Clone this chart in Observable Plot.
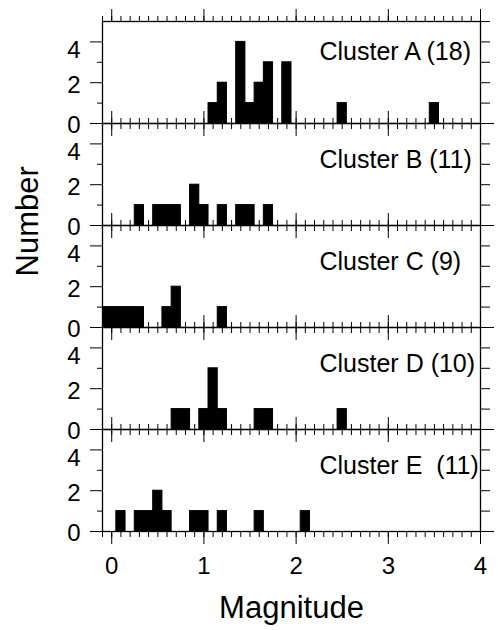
<!DOCTYPE html>
<html><head><meta charset="utf-8">
<script src="https://cdn.jsdelivr.net/npm/d3@7"></script>
<script src="https://cdn.jsdelivr.net/npm/@observablehq/plot@0.6"></script>
<style>body{margin:0;background:#fff;}</style>
</head><body><div id="chart"></div>
<script>
// ---- data ----
const clusters = ["A", "B", "C", "D", "E"];
const clusterLabels = ["Cluster A (18)", "Cluster B (11)", "Cluster C (9)", "Cluster D (10)", "Cluster E\u00a0\u00a0(11)"];
// bin centres (magnitude) and counts per cluster
const magA = [1.1, 1.2, 1.4, 1.5, 1.6, 1.7, 1.9, 2.5, 3.5];
const cntA = [1, 2, 4, 1, 2, 3, 3, 1, 1];
const magB = [0.3, 0.5, 0.6, 0.7, 0.9, 1.0, 1.2, 1.4, 1.5, 1.7];
const cntB = [1, 1, 1, 1, 2, 1, 1, 1, 1, 1];
const magC = [-0.1, 0.0, 0.1, 0.2, 0.3, 0.6, 0.7, 1.2];
const cntC = [1, 1, 1, 1, 1, 1, 2, 1];
const magD = [0.7, 0.8, 1.0, 1.1, 1.2, 1.6, 1.7, 2.5];
const cntD = [1, 1, 1, 3, 1, 1, 1, 1];
const magE = [0.1, 0.3, 0.4, 0.5, 0.6, 0.9, 1.0, 1.2, 1.6, 2.1];
const cntE = [1, 1, 1, 2, 1, 1, 1, 1, 1, 1];
const binWidth = 0.1;
const xMajorTicks = [0, 1, 2, 3, 4];
const xMinorTicks = d3.range(-1, 41).map(i => i / 10);
const yLabelTicks = [0, 2, 4];
const yMinorTicks = [1, 3];
const yRightTicks = [1, 2, 3, 4, 5];

// ---- build table ----
const series = {A: [magA, cntA], B: [magB, cntB], C: [magC, cntC], D: [magD, cntD], E: [magE, cntE]};
const bars = clusters.flatMap(c => series[c][0].map((m, i) => ({cluster: c, mag: m, count: series[c][1][i]})));
const labels = clusters.map((c, i) => ({cluster: c, label: clusterLabels[i]}));

const font = "'Liberation Sans', Arial, Helvetica, sans-serif";
const tickOpts = {fill: "none", label: null, facetAnchor: null, strokeWidth: 1};
const yTextOpts = {anchor: "left", tickSize: 0, tickPadding: 22, fontSize: 24, label: null, facetAnchor: null};

const plot = Plot.plot({
  width: 498,
  height: 630,
  marginTop: 19,
  marginBottom: 97.7,
  marginLeft: 102,
  marginRight: 18,
  x: {domain: [-0.1, 4], axis: null},
  y: {domain: [0, 5], axis: null},
  fy: {domain: clusters, axis: null, padding: 0},
  style: {fontFamily: font, color: "black", background: "white"},
  marks: [
    Plot.rectY(bars, {
      fy: "cluster",
      x1: d => d.mag - binWidth / 2,
      x2: d => d.mag + binWidth / 2,
      y1: 0,
      y2: "count",
      fill: "black",
      stroke: "black",
      strokeWidth: 1,
      inset: 0,
      clip: true
    }),
    Plot.frame({stroke: "black", strokeWidth: 1.3}),
    // x ticks at top and bottom of every panel (outward)
    Plot.axisX(xMajorTicks, {anchor: "bottom", tickSize: 13, ...tickOpts}),
    Plot.axisX(xMinorTicks, {anchor: "bottom", tickSize: 6, ...tickOpts}),
    Plot.axisX(xMajorTicks, {anchor: "top", tickSize: 13, ...tickOpts}),
    Plot.axisX(xMinorTicks, {anchor: "top", tickSize: 6, ...tickOpts}),
    // x tick labels (bottom panel only)
    Plot.axisX(xMajorTicks, {anchor: "bottom", tickSize: 0, tickPadding: 25.7, fontSize: 24, label: null, facetAnchor: "bottom"}),
    // y ticks left
    Plot.axisY(yLabelTicks, {anchor: "left", tickSize: 12, ...tickOpts}),
    Plot.axisY(yMinorTicks, {anchor: "left", tickSize: 5, ...tickOpts}),
    Plot.axisY([yLabelTicks[0]], {...yTextOpts, dy: 2}),
    Plot.axisY([yLabelTicks[1]], {...yTextOpts, dy: 3}),
    Plot.axisY([yLabelTicks[2]], {...yTextOpts, dy: 8}),
    // y ticks right
    Plot.axisY(yRightTicks, {anchor: "right", tickSize: 9, ...tickOpts}),
    Plot.axisY([0], {anchor: "right", tickSize: 13, ...tickOpts}),
    // cluster labels
    Plot.text(labels.filter(d => d.cluster === "A"), {fy: "cluster", text: "label", frameAnchor: "top-left", dx: 217, dy: 38, textAnchor: "start", lineAnchor: "bottom", fontSize: 25, fill: "black"}),
    Plot.text(labels.filter(d => d.cluster !== "A"), {fy: "cluster", text: "label", frameAnchor: "top-left", dx: 217, dy: 44, textAnchor: "start", lineAnchor: "bottom", fontSize: 25, fill: "black"}),
    // axis titles
    Plot.text(["Number"], {facet: "super", frameAnchor: "left", rotate: -90, dx: -74, fontSize: 31, fill: "black"}),
    Plot.text(["Magnitude"], {facet: "super", frameAnchor: "bottom", lineAnchor: "bottom", dy: 86, fontSize: 31, fill: "black"})
  ]
});
document.getElementById("chart").append(plot);
</script>
</body></html>
